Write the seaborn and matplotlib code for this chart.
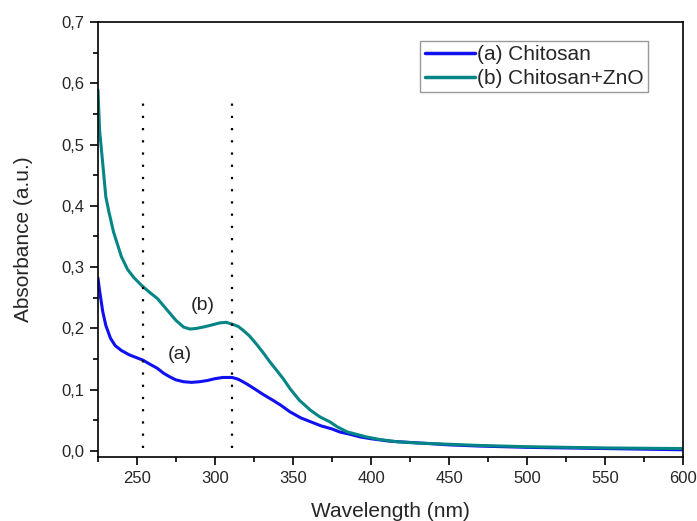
import numpy as np
import pandas as pd
import matplotlib
matplotlib.use("Agg")
import matplotlib.pyplot as plt
import seaborn as sns
from matplotlib.ticker import MultipleLocator, FixedLocator, FixedFormatter

# ---- data ----
wl_a = [225, 226, 228, 230, 233, 236, 240, 245, 250, 254, 258, 263, 267, 271, 275,
        280, 285, 290, 295, 300, 305, 311, 315, 320, 325, 331, 337, 342, 348, 355,
        362, 368, 375, 380, 387, 393, 400, 412, 425, 438, 450, 470, 500, 525, 550,
        575, 600]
abs_a = [0.282, 0.262, 0.228, 0.205, 0.184, 0.172, 0.164, 0.157, 0.152, 0.148, 0.142,
         0.135, 0.127, 0.121, 0.116, 0.113, 0.112, 0.113, 0.115, 0.118, 0.120, 0.120,
         0.117, 0.110, 0.102, 0.092, 0.083, 0.075, 0.064, 0.054, 0.047, 0.041, 0.036,
         0.031, 0.027, 0.023, 0.020, 0.016, 0.014, 0.012, 0.010, 0.008, 0.006, 0.005,
         0.004, 0.003, 0.002]

wl_b = [225, 226, 228, 230, 232, 235, 238, 240, 244, 248, 253, 258, 263, 267, 271,
        275, 280, 284, 288, 292, 297, 303, 307, 311, 315, 318, 322, 327, 331, 335,
        340, 344, 348, 354, 361, 367, 374, 378, 381, 385, 391, 397, 405, 417, 430,
        450, 470, 500, 525, 550, 575, 600]
abs_b = [0.589, 0.524, 0.470, 0.415, 0.390, 0.357, 0.333, 0.317, 0.296, 0.283, 0.270,
         0.259, 0.249, 0.237, 0.225, 0.213, 0.202, 0.199, 0.200, 0.202, 0.205, 0.209,
         0.210, 0.207, 0.203, 0.197, 0.188, 0.173, 0.160, 0.146, 0.130, 0.117, 0.102,
         0.083, 0.067, 0.056, 0.047, 0.040, 0.036, 0.031, 0.027, 0.023, 0.019, 0.015,
         0.013, 0.011, 0.009, 0.007, 0.006, 0.005, 0.0045, 0.004]

series_labels = ["(a) Chitosan", "(b) Chitosan+ZnO"]
series_colors = ["#1010F0", "#058585"]
peak_wl = [254, 311]

x_ticks = [250, 300, 350, 400, 450, 500, 550, 600]
y_ticks = [0.0, 0.1, 0.2, 0.3, 0.4, 0.5, 0.6, 0.7]
y_tick_labels = ["0,0", "0,1", "0,2", "0,3", "0,4", "0,5", "0,6", "0,7"]

# ---- build table ----
df = pd.concat([
    pd.DataFrame({"wl": wl_a, "A": abs_a, "series": series_labels[0]}),
    pd.DataFrame({"wl": wl_b, "A": abs_b, "series": series_labels[1]}),
], ignore_index=True)

sns.set_style("white")
plt.rcParams["font.family"] = ["Liberation Sans", "DejaVu Sans"]

fig = plt.figure(figsize=(6.97, 5.21), dpi=100)
ax = fig.add_axes([0.1406, 0.1234, 0.98 - 0.1406, 0.9578 - 0.1234])

sns.lineplot(data=df, x="wl", y="A", hue="series", palette=series_colors,
             hue_order=series_labels, sort=False, estimator=None, linewidth=2.2, ax=ax)

ax.vlines(peak_wl, 0.005, 0.575, colors="black", linestyles=(0, (1, 4.5)), linewidth=1.6)

ax.text(292.3, 0.238, "(b)", fontsize=14, ha="center", va="center")
ax.text(277.6, 0.157, "(a)", fontsize=14, ha="center", va="center")

ax.set_xlim(225, 600)
ax.set_ylim(-0.0093, 0.7)
ax.xaxis.set_major_locator(FixedLocator(x_ticks))
ax.xaxis.set_minor_locator(MultipleLocator(25))
ax.yaxis.set_major_locator(FixedLocator(y_ticks))
ax.yaxis.set_major_formatter(FixedFormatter(y_tick_labels))
ax.yaxis.set_minor_locator(MultipleLocator(0.05))

ax.tick_params(which="major", direction="out", length=6, width=1.2, labelsize=12,
               pad=4, bottom=True, left=True, top=False, right=False, color="black")
ax.tick_params(which="minor", direction="out", length=3.5, width=1.2,
               bottom=True, left=True, top=False, right=False, color="black")
for s in ax.spines.values():
    s.set_linewidth(1.2)
    s.set_color("black")

ax.set_xlabel("Wavelength (nm)", fontsize=15, labelpad=12)
ax.set_ylabel("Absorbance (a.u.)", fontsize=15, labelpad=20)

leg = ax.legend(loc="upper right", bbox_to_anchor=(0.940, 0.956), borderaxespad=0,
                fontsize=15, frameon=True, fancybox=False, handlelength=2.4,
                handletextpad=0.12, labelspacing=0.22, borderpad=0.2)
leg.get_frame().set_edgecolor("#808080")
leg.get_frame().set_linewidth(1.0)
for line in leg.get_lines():
    line.set_linewidth(2.5)

fig.savefig("out.png", dpi=100)
